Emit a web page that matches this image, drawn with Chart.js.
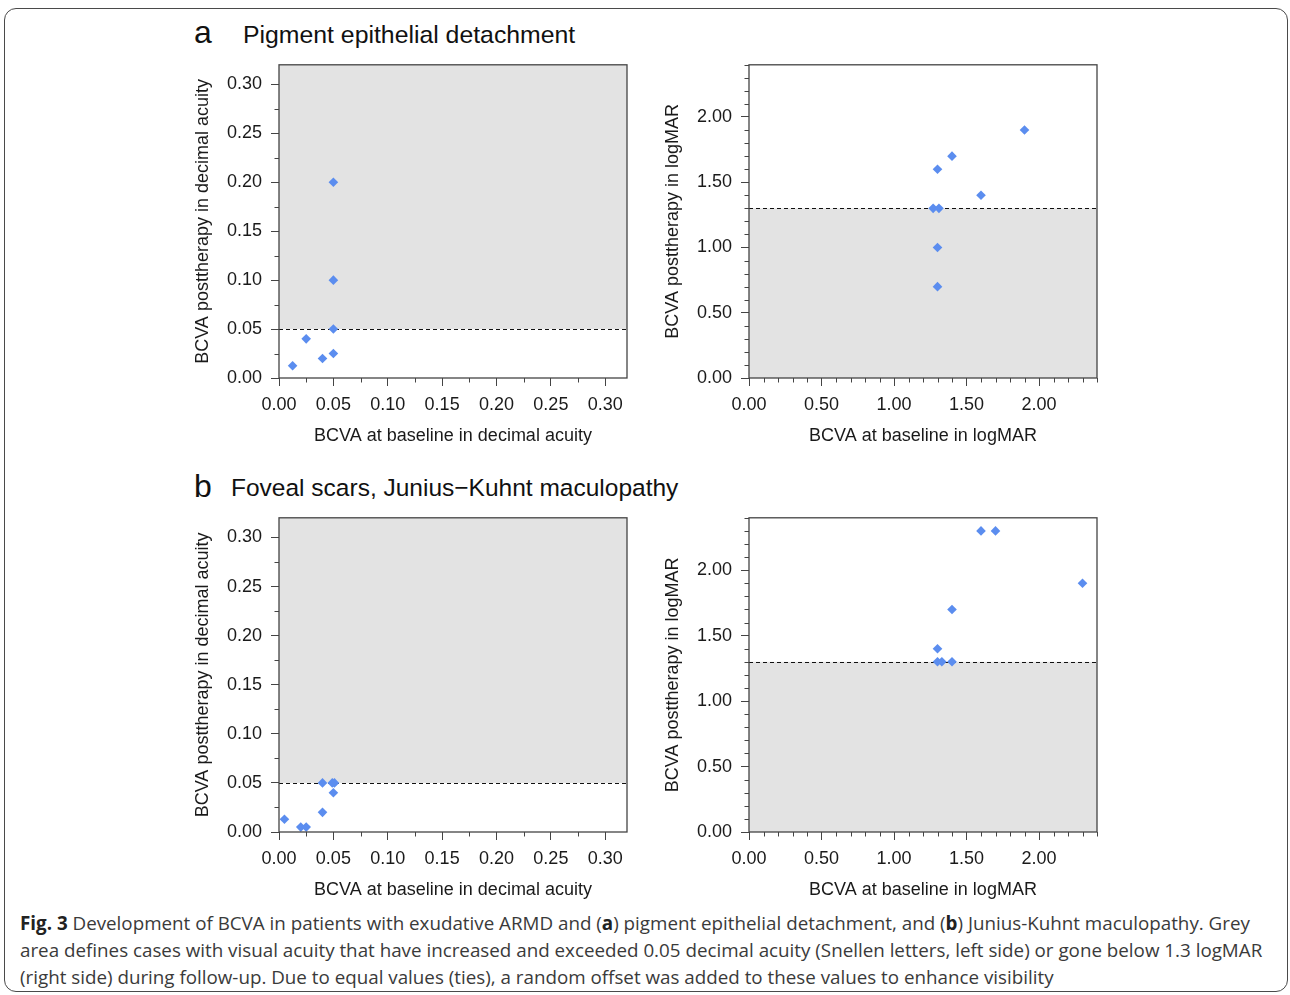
<!DOCTYPE html>
<html>
<head>
<meta charset="utf-8">
<script src="https://cdn.jsdelivr.net/npm/chart.js@4.4.1/dist/chart.umd.min.js"></script>
<style>
  html, body { margin: 0; padding: 0; background: #fff; }
  body { width: 1290px; height: 995px; position: relative; overflow: hidden; }
  .frame { position: absolute; left: 4px; top: 8px; width: 1282px; height: 982px;
           border: 1.5px solid #4a4a4a; border-radius: 12px; }
  .cv { position: absolute; }
  .t { position: absolute; font-family: "Liberation Sans", Arial, sans-serif; color: #111;
       white-space: nowrap; line-height: 1; }
  .caption { position: absolute; left: 20px; top: 910px; font-family: "Open Sans", sans-serif;
             font-size: 18.8px; line-height: 27px; color: #3a3a3a; white-space: nowrap; }
  .caption b { font-weight: 700; color: #222; }
</style>
</head>
<body>
<div class="frame"></div>

<div class="t" style="left:194px; top:16px; font-size:32px;">a</div>
<div class="t" style="left:243px; top:23px; font-size:24.8px;">Pigment epithelial detachment</div>
<div class="t" style="left:194px; top:470px; font-size:32px;">b</div>
<div class="t" style="left:231px; top:476px; font-size:24.5px;">Foveal scars, Junius−Kuhnt maculopathy</div>

<canvas id="aL" class="cv" width="460" height="390" style="left:180px; top:60px;"></canvas>
<canvas id="aR" class="cv" width="460" height="390" style="left:650px; top:60px;"></canvas>
<canvas id="bL" class="cv" width="460" height="391" style="left:180px; top:513px;"></canvas>
<canvas id="bR" class="cv" width="460" height="391" style="left:650px; top:513px;"></canvas>

<div class="caption"><b>Fig. 3</b> Development of BCVA in patients with exudative ARMD and (<b>a</b>) pigment epithelial detachment, and (<b>b</b>) Junius-Kuhnt maculopathy. Grey<br>area defines cases with visual acuity that have increased and exceeded 0.05 decimal acuity (Snellen letters, left side) or gone below 1.3 logMAR<br>(right side) during follow-up. Due to equal values (ties), a random offset was added to these values to enhance visibility</div>

<script>
// ---- Data ----
const pedDecimalBaseline    = [0.0125, 0.025, 0.04, 0.05, 0.05, 0.05, 0.05];
const pedDecimalPost        = [0.0125, 0.04, 0.02, 0.025, 0.05, 0.10, 0.20];

const pedLogmarBaseline     = [1.27, 1.31, 1.30, 1.30, 1.30, 1.40, 1.60, 1.90];
const pedLogmarPost         = [1.30, 1.30, 1.00, 0.70, 1.60, 1.70, 1.40, 1.90];

const scarDecimalBaseline   = [0.005, 0.02, 0.025, 0.04, 0.04, 0.049, 0.051, 0.05];
const scarDecimalPost       = [0.013, 0.005, 0.005, 0.02, 0.05, 0.05, 0.05, 0.04];

const scarLogmarBaseline    = [1.30, 1.30, 1.33, 1.40, 1.40, 1.60, 1.70, 2.30];
const scarLogmarPost        = [1.40, 1.30, 1.30, 1.30, 1.70, 2.30, 2.30, 1.90];

const decimalThreshold = 0.05;
const logmarThreshold  = 1.3;

const decimalTitles = { x: 'BCVA at baseline in decimal acuity', y: 'BCVA posttherapy in decimal acuity' };
const logmarTitles  = { x: 'BCVA at baseline in logMAR',        y: 'BCVA posttherapy in logMAR' };

// ---- Drawing ----
const FONT = '"Liberation Sans", Arial, sans-serif';
const INK = '#1a1a1a';
const AXIS = '#444';

const panelDecor = {
  id: 'panelDecor',
  beforeDatasetsDraw(chart, args, o) {
    const { ctx, chartArea: a, scales: { y } } = chart;
    const ty = y.getPixelForValue(o.threshold);
    ctx.save();
    ctx.fillStyle = '#e3e3e3';
    if (o.shade === 'above') ctx.fillRect(a.left, a.top, a.right - a.left, ty - a.top);
    else ctx.fillRect(a.left, ty, a.right - a.left, a.bottom - ty);
    ctx.strokeStyle = '#111';
    ctx.lineWidth = 1;
    ctx.setLineDash([4, 3]);
    const yy = Math.round(ty) + 0.5;
    ctx.beginPath(); ctx.moveTo(a.left, yy); ctx.lineTo(a.right, yy); ctx.stroke();
    ctx.restore();
  },
  afterDraw(chart, args, o) {
    const { ctx, chartArea: a, scales: { x, y } } = chart;
    ctx.save();
    ctx.strokeStyle = AXIS;
    ctx.lineWidth = 1.3;
    ctx.strokeRect(a.left, a.top, a.right - a.left, a.bottom - a.top);
    // minor ticks
    ctx.lineWidth = 1;
    const len = 4.5;
    const eps = 1e-9;
    [[x, 'x'], [y, 'y']].forEach(([s, dir]) => {
      const n = Math.round((s.max - s.min) / o.minorStep);
      for (let i = 0; i <= n; i++) {
        const v = s.min + i * o.minorStep;
        if (v > s.max + eps) break;
        const r = v / o.majorStep;
        if (Math.abs(r - Math.round(r)) < 1e-6) continue;
        const p = Math.round(s.getPixelForValue(v)) + 0.5;
        ctx.beginPath();
        if (dir === 'x') { ctx.moveTo(p, a.bottom); ctx.lineTo(p, a.bottom + len); }
        else { ctx.moveTo(a.left - len, p); ctx.lineTo(a.left, p); }
        ctx.stroke();
      }
    });
    ctx.restore();
  }
};

function makePanel(id, xs, ys, cfg) {
  const pts = xs.map((v, i) => ({ x: v, y: ys[i] }));
  const tickFont = { family: FONT, size: 18 };
  const titleFont = { family: FONT, size: 18 };
  const fmt = v => Number(v).toFixed(2);
  new Chart(document.getElementById(id), {
    type: 'scatter',
    data: { datasets: [{
      data: pts,
      pointStyle: 'rectRot',
      pointRadius: 4.8,
      pointBorderWidth: 0,
      backgroundColor: '#5b8def',
      borderColor: '#5b8def'
    }] },
    options: {
      responsive: false,
      animation: false,
      devicePixelRatio: 1,
      layout: { padding: { top: 4, right: 13, left: 0, bottom: 0 } },
      plugins: {
        legend: { display: false },
        tooltip: { enabled: false },
        panelDecor: { threshold: cfg.threshold, shade: cfg.shade, minorStep: cfg.minorStep, majorStep: cfg.majorStep }
      },
      scales: {
        x: {
          type: 'linear', min: 0, max: cfg.max,
          ticks: { stepSize: cfg.majorStep, includeBounds: false, callback: fmt, font: tickFont, color: INK, padding: 8, maxRotation: 0, autoSkip: false },
          grid: { drawOnChartArea: false, drawTicks: true, tickLength: 8, color: AXIS, lineWidth: 1 },
          border: { display: false },
          title: { display: true, text: cfg.titles.x, font: titleFont, color: INK, padding: { top: 0, bottom: 3 } },
          afterFit(s) { s.height = 72; s.paddingLeft = 0; s.paddingRight = 0; }
        },
        y: {
          type: 'linear', min: 0, max: cfg.max,
          ticks: { stepSize: cfg.majorStep, includeBounds: false, callback: fmt, font: tickFont, color: INK, padding: 9, autoSkip: false },
          grid: { drawOnChartArea: false, drawTicks: true, tickLength: 8, color: AXIS, lineWidth: 1 },
          border: { display: false },
          title: { display: true, text: cfg.titles.y, font: titleFont, color: INK, padding: { top: 12, bottom: 0 } },
          afterFit(s) { s.width = 99; s.paddingTop = 0; s.paddingBottom = 0; }
        }
      }
    },
    plugins: [panelDecor]
  });
}

const decimalCfg = { max: 0.32, majorStep: 0.05, minorStep: 0.025, threshold: decimalThreshold, shade: 'above', titles: decimalTitles };
const logmarCfg  = { max: 2.4,  majorStep: 0.5,  minorStep: 0.1,   threshold: logmarThreshold,  shade: 'below', titles: logmarTitles };

makePanel('aL', pedDecimalBaseline, pedDecimalPost, decimalCfg);
makePanel('aR', pedLogmarBaseline, pedLogmarPost, logmarCfg);
makePanel('bL', scarDecimalBaseline, scarDecimalPost, decimalCfg);
makePanel('bR', scarLogmarBaseline, scarLogmarPost, logmarCfg);
</script>
</body>
</html>
